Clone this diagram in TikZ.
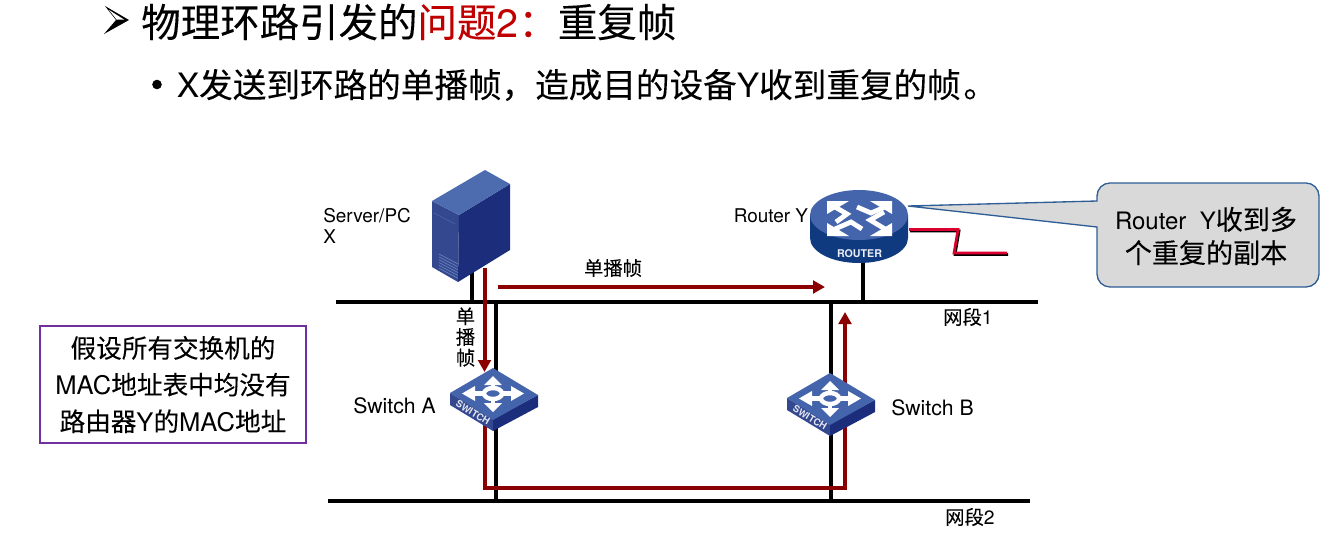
\documentclass[tikz,border=0pt]{standalone}
\usepackage{fontspec}
\setmainfont{TeX Gyre Heros}
\newfontfamily\cjk[FakeBold=0.12]{Noto Sans CJK SC}
\newfontfamily\lat{TeX Gyre Heros}
\usetikzlibrary{arrows.meta}
\definecolor{flow}{HTML}{8B0000}
\definecolor{hot}{HTML}{C00000}
\definecolor{zig}{HTML}{DC0030}
\definecolor{icontop}{HTML}{4464AC}
\definecolor{iconfront}{HTML}{34488F}
\definecolor{iconside}{HTML}{1B2D7B}
\definecolor{routerside}{HTML}{0F3A80}
\definecolor{calloutline}{HTML}{2F5E96}
\definecolor{calloutfill}{HTML}{D9D9D9}
\definecolor{notebox}{HTML}{7030A0}
\tikzset{
  x=0.75pt,y=-0.75pt,
  bus/.style={draw=black,line width=3pt},
  link/.style={draw=black,line width=3pt},
  flowline/.style={draw=flow,line width=3pt},
  flowarrow/.style={flowline,-{Triangle[length=9pt,width=9.5pt]}},
  lbl/.style={inner sep=0pt,font=\fontsize{14.2}{17}\selectfont,text=black},
  swlbl/.style={inner sep=0pt,font=\fontsize{15.9}{17}\selectfont,text=black},
  cjklbl/.style={inner sep=0pt,font=\cjk\fontsize{14.5}{15.5}\selectfont,text=black,align=center},
  titleA/.style={inner sep=0pt,anchor=west,font=\cjk\fontsize{29.6}{34}\selectfont},
  titleB/.style={inner sep=0pt,anchor=west,font=\cjk\fontsize{25.2}{30}\selectfont},
  switchicon/.pic={
    \fill[iconfront] (-43,0) -- (0,26) -- (0,38) -- (-43,12) -- cycle;
    \fill[iconside] (45,2) -- (0,26) -- (0,38) -- (45,14) -- cycle;
    \fill[icontop] (0,-25) -- (45,2) -- (0,27) -- (-43,0) -- cycle;
    \draw[white,line width=3.3pt] (0,0.5) ellipse (9 and 5.5);
    \draw[white,line width=3.4pt] (0,-6) -- (0,-10) (0,7) -- (0,11) (-10,0.5) -- (-20,0.5) (10,0.5) -- (20,0.5);
    \fill[white] (0,-17) -- (9,-8) -- (-9,-8) -- cycle;
    \fill[white] (0,19) -- (9,10) -- (-9,10) -- cycle;
    \fill[white] (-31,0.5) -- (-18,-7) -- (-18,8) -- cycle;
    \fill[white] (31,0.5) -- (18,-7) -- (18,8) -- cycle;
    \node[rotate=-31,inner sep=0pt,text=white!85!icontop,font=\bfseries\fontsize{7.2}{8}\selectfont] (-label) at (-20,19.5) {SWITCH};
  },
}
\begin{document}
\begin{tikzpicture}
\useasboundingbox (0,0) rectangle (1326,536);

% named anchors
\coordinate (bus1L) at (336,302);
\coordinate (bus1R) at (1038,302);
\coordinate (bus2L) at (328,501);
\coordinate (bus2R) at (1030,501);
\coordinate (srvFoot) at (472,270);
\coordinate (srvOnBus) at (472,302);
\coordinate (aOnBus1) at (496,302);
\coordinate (aOnBus2) at (496,501);
\coordinate (bOnBus1) at (831,302);
\coordinate (bOnBus2) at (831,501);
\coordinate (rtFoot) at (863,260);
\coordinate (rtOnBus) at (863,302);
\coordinate (flowDownStart) at (484.5,268);
\coordinate (flowDownEnd) at (484.5,372);
\coordinate (flowRightStart) at (498,287);
\coordinate (flowRightEnd) at (825,287);
\coordinate (loopStart) at (484.5,425);
\coordinate (loopC1) at (484.5,487.5);
\coordinate (loopC2) at (845,487.5);
\coordinate (loopEnd) at (845,312);

% header
\fill[black] (105,6) -- (129,20) -- (104,34) -- (116,20) -- cycle;
\fill[white] (109,10) -- (124,19.5) -- (116.5,19.5) -- cycle;
\node[titleA] (title) at (141,22) {物理环路引发的\textcolor{hot}{问题{\lat 2}：}重复帧};
\fill[black] (157,84.5) circle (4.8);
\node[titleB] (sub) at (176.5,85) {{\lat X}发送到环路的单播帧，造成目的设备{\lat Y}收到重复的帧\hspace{2pt}。};

% links and buses
\draw[bus] (bus1L) -- (bus1R);
\draw[bus] (bus2L) -- (bus2R);
\draw[link] (srvFoot) -- (srvOnBus);
\draw[link] (aOnBus1) -- (aOnBus2);
\draw[link] (bOnBus1) -- (bOnBus2);
\draw[link] (rtFoot) -- (rtOnBus);

% loop flow (behind the switches)
\draw[flowarrow,line join=miter] (loopStart) -- (loopC1) -- (loopC2) -- (loopEnd);

% switches
\pic (swA) at (493,393) {switchicon};
\pic (swB) at (830,398) {switchicon};

% server
\fill[iconfront] (432,201) -- (459,215) -- (458,282) -- (432,267) -- cycle;
\fill[iconside] (459,215) -- (510,184) -- (510,250) -- (458,282) -- cycle;
\fill[icontop!95!white] (485,170) -- (510,184) -- (459,215) -- (432,201) -- cycle;
\draw[icontop,line width=0.5pt] (434,213) -- (455,224);
\foreach \dy in {0,3,...,15} {\draw[icontop!80!white,line width=0.5pt] (439,254+\dy*0.95) -- (458,264+\dy*0.95);}

% router
\fill[routerside] (810,215) -- (810,238) arc[start angle=180,end angle=0,x radius=49,y radius=25] -- (908,215) -- cycle;
\fill[icontop] (859,215) ellipse (49 and 25);
\node[inner sep=0pt,text=white!90!icontop,font=\bfseries\fontsize{8}{9}\selectfont] (routerTag) at (859.5,254) {ROUTER};
\draw[white,line width=3.6pt] (835,207) -- (847,214) -- (836,222);
\draw[white,line width=3.6pt] (885,207) -- (871,213) -- (857,207);
\draw[white,line width=3.6pt] (835,229) -- (851,222) -- (862,229);
\draw[white,line width=3.6pt] (885,229) -- (870,220) -- (884,212);
\fill[white] (827,201) -- (849,201) -- (827,214) -- cycle;
\fill[white] (892,201) -- (870,201) -- (892,214) -- cycle;
\fill[white] (827,236) -- (849,236) -- (827,223) -- cycle;
\fill[white] (892,236) -- (870,236) -- (892,223) -- cycle;

% the zig-zag line at the router
\coordinate (zA) at (909,229.5);
\coordinate (zB) at (958,229.5);
\coordinate (zC) at (954,253);
\coordinate (zD) at (1007,253);
\draw[black,line width=2pt,transform canvas={xshift=0.8pt,yshift=-1.1pt}] (zA) -- (zB) -- (zC) -- (zD);
\draw[zig,line width=2pt] (zA) -- (zB) -- (zC) -- (zD);

% other flows
\draw[flowarrow] (flowDownStart) -- (flowDownEnd);
\draw[flowarrow] (flowRightStart) -- (flowRightEnd);

% labels
\node[lbl,anchor=west] (lblServer) at (323,216) {Server/PC};
\node[lbl,anchor=west] (lblX) at (323,237) {X};
\node[lbl,anchor=west] (lblRouter) at (733.5,216) {Router Y};
\node[swlbl,anchor=west] (lblSwA) at (353,405.5) {Switch A};
\node[swlbl,anchor=west] (lblSwB) at (891,407.5) {Switch B};
\node[cjklbl] (lblFlowH) at (613,268) {单播帧};
\node[cjklbl] (lblFlowV) at (465.5,337) {单\\播\\帧};
\node[cjklbl,anchor=west] (lblSeg1) at (943,317) {网段{\lat 1}};
\node[cjklbl,anchor=west] (lblSeg2) at (945,517) {网段{\lat 2}};

% note box
\node[draw=notebox,line width=1.1pt,fill=white,minimum width=199.5pt,minimum height=87.5pt,inner sep=0pt,align=center,font=\cjk\fontsize{19.2}{27.5}\selectfont] (note) at (173,384.5) {\raisebox{-1.5pt}{假设所有交换机的}\\\raisebox{-1.5pt}{{\lat MAC}地址表中均没有}\\\raisebox{-1.5pt}{路由器{\lat Y}的{\lat MAC}地址}};

% callout
\draw[draw=calloutline,fill=calloutfill,line width=1pt] (1097,201) -- (908,206) -- (1097,227) -- (1097,274)
  arc[start angle=180,end angle=90,radius=13] -- (1306,287)
  arc[start angle=90,end angle=0,radius=13] -- (1319,196)
  arc[start angle=0,end angle=-90,radius=13] -- (1110,183)
  arc[start angle=-90,end angle=-180,radius=13] -- cycle;
\node[inner sep=0pt,align=center,font=\cjk\fontsize{20.3}{25}\selectfont] (calloutText) at (1206,236) {{\lat\fontsize{18}{25}\selectfont Router\ \ Y}收到多\\个重复的副本};
\end{tikzpicture}
\end{document}
